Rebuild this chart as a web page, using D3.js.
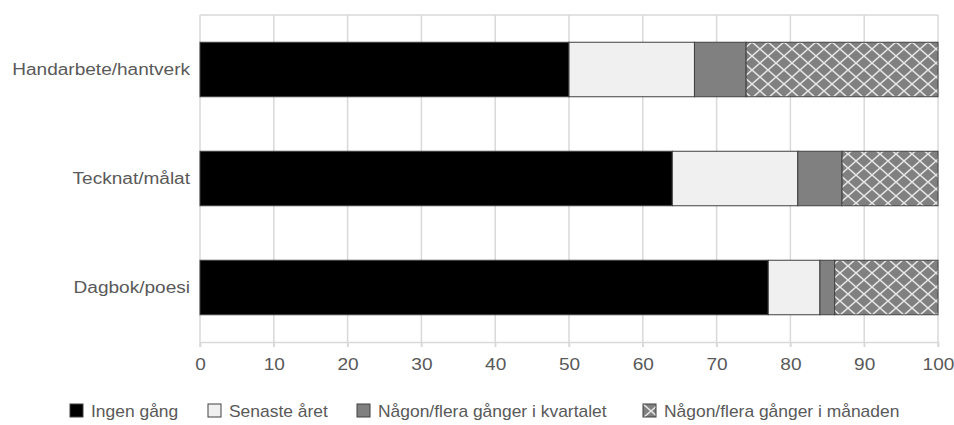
<!DOCTYPE html>
<html>
<head>
<meta charset="utf-8">
<style>
  body { margin: 0; background: #fff; }
  text { font-family: "Liberation Sans", Arial, sans-serif; fill: #595959; }
</style>
</head>
<body>
<svg width="954" height="425"></svg>
<script src="https://cdn.jsdelivr.net/npm/d3@7"></script>
<script>
// data
const categories = ["Handarbete/hantverk", "Tecknat/målat", "Dagbok/poesi"]
const seriesNames = ["Ingen gång", "Senaste året", "Någon/flera gånger i kvartalet", "Någon/flera gånger i månaden"]
const ingenGang = [50, 64, 77]
const senasteAret = [17, 17, 7]
const kvartalet = [7, 6, 2]
const manaden = [26, 13, 14]
const xTicks = [0, 10, 20, 30, 40, 50, 60, 70, 80, 90, 100]

const fills = ["#000000", "#f0f0f0", "#808080", "url(#hatch)"]
const fs = 16, sx = 1.19   // text is a bit wide in the original
const sxLeg = 1.09

const svg = d3.select("svg")

// hatch pattern
const pat = svg.append("defs").append("pattern")
  .attr("id", "hatch").attr("patternUnits", "userSpaceOnUse")
  .attr("width", 16).attr("height", 14)
pat.append("rect").attr("width", 16).attr("height", 14).attr("fill", "#808080")
pat.append("path").attr("d", "M0,0L16,14M16,0L0,14")
  .attr("stroke", "#e6e6e6").attr("stroke-width", 1.5)

const m = { left: 200, right: 938, top: 15, bottom: 342 }

const x = d3.scaleLinear().domain([0, 100]).range([m.left, m.right])
const y = d3.scaleBand().domain(categories).range([m.top, m.bottom]).paddingInner(0.5).paddingOuter(0.25)

// grid
svg.append("g").selectAll("line").data(xTicks).join("line")
  .attr("x1", d => x(d)).attr("x2", d => x(d))
  .attr("y1", m.top).attr("y2", m.bottom + 5)
  .attr("stroke", "#d9d9d9").attr("stroke-width", 1.5)
svg.append("line").attr("x1", m.left).attr("x2", m.right)
  .attr("y1", m.top).attr("y2", m.top)
  .attr("stroke", "#d9d9d9").attr("stroke-width", 1.5)

// x axis
const xa = svg.append("g").attr("transform", `translate(0,${m.bottom})`)
  .call(d3.axisBottom(x).tickValues(xTicks).tickSize(5).tickPadding(12))
xa.select(".domain").attr("stroke", "#d9d9d9").attr("stroke-width", 1.5)
xa.selectAll(".tick line").attr("stroke", "#d9d9d9").attr("stroke-width", 1.5)
xa.selectAll("text").attr("font-size", fs).attr("fill", "#595959")
  .attr("font-family", "Liberation Sans, Arial, sans-serif")
  .attr("transform", `scale(${sx},1)`)

// y labels
svg.append("g").selectAll("text").data(categories).join("text")
  .attr("transform", d => `translate(190,${y(d) + y.bandwidth() / 2}) scale(${sx},1)`)
  .attr("dy", "0.35em").attr("text-anchor", "end").attr("font-size", fs)
  .text(d => d)

// stacked bars
const rows = categories.map((c, i) => ({ cat: c, v: [ingenGang[i], senasteAret[i], kvartalet[i], manaden[i]] }))
const keys = [0, 1, 2, 3]
const stack = d3.stack().keys(keys).value((d, k) => d.v[k])(rows)

svg.append("g").selectAll("g").data(stack).join("g")
  .attr("fill", (d, i) => fills[i])
  .selectAll("rect").data(d => d).join("rect")
  .attr("x", d => x(d[0])).attr("width", d => x(d[1]) - x(d[0]))
  .attr("y", d => y(d.data.cat)).attr("height", y.bandwidth())
  .attr("stroke", "#404040").attr("stroke-width", 1)

// legend
const legX = [70, 208, 357, 643]
const leg = svg.append("g").selectAll("g").data(seriesNames).join("g")
  .attr("transform", (d, i) => `translate(${legX[i]},404)`)
leg.append("rect").attr("width", 13).attr("height", 13)
  .attr("fill", (d, i) => fills[i]).attr("stroke", "#404040").attr("stroke-width", 1)
leg.append("text").attr("transform", `translate(21,7) scale(${sxLeg},1)`).attr("dy", "0.35em")
  .attr("font-size", fs).text(d => d)
</script>
</body>
</html>
